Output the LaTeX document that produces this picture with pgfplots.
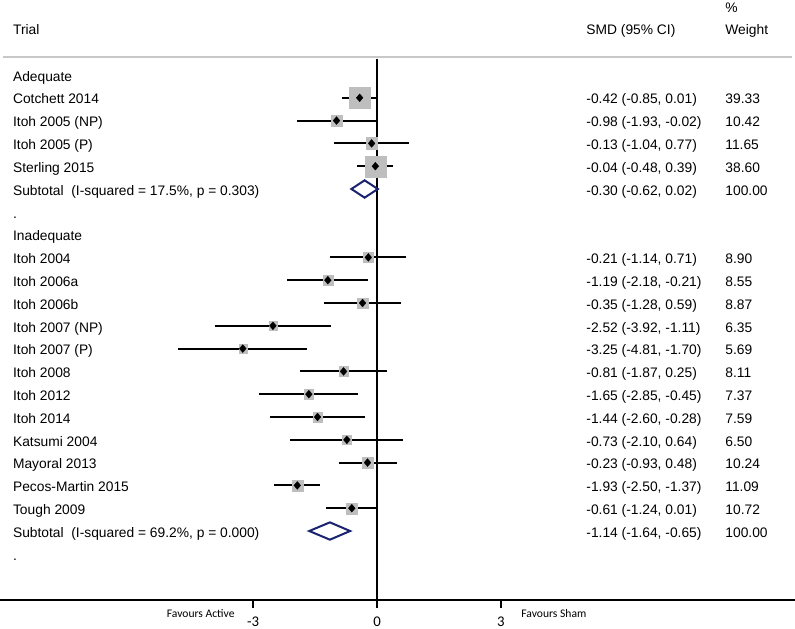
\documentclass[border=0pt]{standalone}
\usepackage{pgfplots}
\pgfplotsset{compat=1.18}
\usepackage{pgfplotstable}
\usepackage{fontspec}
\setmainfont{Liberation Sans}
\newfontfamily\calfont{Carlito}

\definecolor{boxgray}{RGB}{190,190,190}
\definecolor{rulegray}{RGB}{200,200,200}
\definecolor{navy}{RGB}{26,35,110}

% y = -row, estimates and 95% CI in SMD units, w = % weight
\pgfplotstableread{
y    est    lo     hi     w
-1   -0.42  -0.85  0.01   39.33
-2   -0.98  -1.93  -0.02  10.42
-3   -0.13  -1.04  0.77   11.65
-4   -0.04  -0.48  0.39   38.60
-8   -0.21  -1.14  0.71   8.90
-9   -1.19  -2.18  -0.21  8.55
-10  -0.35  -1.28  0.59   8.87
-11  -2.52  -3.92  -1.11  6.35
-12  -3.25  -4.81  -1.70  5.69
-13  -0.81  -1.87  0.25   8.11
-14  -1.65  -2.85  -0.45  7.37
-15  -1.44  -2.60  -0.28  7.59
-16  -0.73  -2.10  0.64   6.50
-17  -0.23  -0.93  0.48   10.24
-18  -1.93  -2.50  -1.37  11.09
-19  -0.61  -1.24  0.01   10.72
}\studies

\newcommand\rowfont{\fontsize{6.9pt}{8pt}\selectfont}
\tikzset{
  txt/.style={font=\rowfont, anchor=base west, inner sep=0pt, yshift=-3.1pt},
  hdr/.style={font=\rowfont, anchor=base west, inner sep=0pt},
}
% box side grows with the square root of the weight
\pgfplotsset{box/.style={boxgray, only marks, mark=square*, mark size={0.85*sqrt(#1)},
  mark options={draw=boxgray, fill=boxgray, line width=0.1pt}}}

\begin{document}
\begin{tikzpicture}
\useasboundingbox (0,-14pt) rectangle (397.5pt,300pt);
\begin{axis}[
  at={(0,0)}, anchor=south west,
  scale only axis,
  width=397.5pt, height=300pt,
  xmin=-9.128, xmax=10.121,
  ymin=-23.026, ymax=3.289,
  clip=false,
  axis y line=none,
  axis x line*=bottom,
  x axis line style={-, line width=1pt},
  xtick={-3,0,3},
  xticklabels={-3,0,3},
  tick align=outside,
  major tick length=4pt,
  major tick style={black, line width=1pt},
  xticklabel style={font=\calfont\fontsize{7.4pt}{8pt}\selectfont, anchor=base, yshift=-9pt},
]
  % header rule and null line
  \addplot[rulegray, line width=0.6pt] coordinates {(-9.05,0.789) (10.05,0.789)};
  \addplot[black, line width=0.75pt] coordinates {(0,0.72) (0,-23.026)};

  % weight boxes
  \addplot[box=39.33] coordinates {(-0.42,-1)};
  \addplot[box=10.42] coordinates {(-0.98,-2)};
  \addplot[box=11.65] coordinates {(-0.13,-3)};
  \addplot[box=38.60] coordinates {(-0.04,-4)};
  \addplot[box=8.90]  coordinates {(-0.21,-8)};
  \addplot[box=8.55]  coordinates {(-1.19,-9)};
  \addplot[box=8.87]  coordinates {(-0.35,-10)};
  \addplot[box=6.35]  coordinates {(-2.52,-11)};
  \addplot[box=5.69]  coordinates {(-3.25,-12)};
  \addplot[box=8.11]  coordinates {(-0.81,-13)};
  \addplot[box=7.37]  coordinates {(-1.65,-14)};
  \addplot[box=7.59]  coordinates {(-1.44,-15)};
  \addplot[box=6.50]  coordinates {(-0.73,-16)};
  \addplot[box=10.24] coordinates {(-0.23,-17)};
  \addplot[box=11.09] coordinates {(-1.93,-18)};
  \addplot[box=10.72] coordinates {(-0.61,-19)};

  % confidence intervals
  \addplot[draw=none, mark=none,
    error bars/.cd, x dir=both, x explicit, error mark=none,
    error bar style={draw=black, line width=1pt}]
    table[x=est, y=y,
      x error plus expr=\thisrow{hi}-\thisrow{est},
      x error minus expr=\thisrow{est}-\thisrow{lo}] {\studies};

  % point estimates
  \addplot[only marks, mark=diamond*, mark size=2pt, black,
    mark options={line width=0.1pt, xscale=1.15}]
    table[x=est, y=y] {\studies};

  % subtotals
  \addplot[navy, line width=1pt, fill=white]
    coordinates {(-0.62,-5) (-0.30,-4.62) (0.02,-5) (-0.30,-5.38)} -- cycle;
  \addplot[navy, line width=1pt, fill=white]
    coordinates {(-1.64,-20) (-1.14,-19.62) (-0.65,-20) (-1.14,-20.38)} -- cycle;

  % header
  \node[hdr] at (axis cs:-8.821,1.754) {Trial};
  \node[hdr] at (axis cs:5.061,1.754) {SMD (95\% CI)};
  \node[hdr] at (axis cs:8.426,2.741) {\%};
  \node[hdr] at (axis cs:8.426,1.754) {Weight};

  % left column
  \node[txt] at (axis cs:-8.821,0)   {Adequate};
  \node[txt] at (axis cs:-8.821,-1)  {Cotchett 2014};
  \node[txt] at (axis cs:-8.821,-2)  {Itoh 2005 (NP)};
  \node[txt] at (axis cs:-8.821,-3)  {Itoh 2005 (P)};
  \node[txt] at (axis cs:-8.821,-4)  {Sterling 2015};
  \node[txt] at (axis cs:-8.821,-5)  {Subtotal\ \ (I-squared = 17.5\%, p = 0.303)};
  \node[txt] at (axis cs:-8.821,-6)  {.};
  \node[txt] at (axis cs:-8.821,-7)  {Inadequate};
  \node[txt] at (axis cs:-8.821,-8)  {Itoh 2004};
  \node[txt] at (axis cs:-8.821,-9)  {Itoh 2006a};
  \node[txt] at (axis cs:-8.821,-10) {Itoh 2006b};
  \node[txt] at (axis cs:-8.821,-11) {Itoh 2007 (NP)};
  \node[txt] at (axis cs:-8.821,-12) {Itoh 2007 (P)};
  \node[txt] at (axis cs:-8.821,-13) {Itoh 2008};
  \node[txt] at (axis cs:-8.821,-14) {Itoh 2012};
  \node[txt] at (axis cs:-8.821,-15) {Itoh 2014};
  \node[txt] at (axis cs:-8.821,-16) {Katsumi 2004};
  \node[txt] at (axis cs:-8.821,-17) {Mayoral 2013};
  \node[txt] at (axis cs:-8.821,-18) {Pecos-Martin 2015};
  \node[txt] at (axis cs:-8.821,-19) {Tough 2009};
  \node[txt] at (axis cs:-8.821,-20) {Subtotal\ \ (I-squared = 69.2\%, p = 0.000)};
  \node[txt] at (axis cs:-8.821,-21) {.};

  % SMD column
  \node[txt] at (axis cs:5.061,-1)  {-0.42 (-0.85, 0.01)};
  \node[txt] at (axis cs:5.061,-2)  {-0.98 (-1.93, -0.02)};
  \node[txt] at (axis cs:5.061,-3)  {-0.13 (-1.04, 0.77)};
  \node[txt] at (axis cs:5.061,-4)  {-0.04 (-0.48, 0.39)};
  \node[txt] at (axis cs:5.061,-5)  {-0.30 (-0.62, 0.02)};
  \node[txt] at (axis cs:5.061,-8)  {-0.21 (-1.14, 0.71)};
  \node[txt] at (axis cs:5.061,-9)  {-1.19 (-2.18, -0.21)};
  \node[txt] at (axis cs:5.061,-10) {-0.35 (-1.28, 0.59)};
  \node[txt] at (axis cs:5.061,-11) {-2.52 (-3.92, -1.11)};
  \node[txt] at (axis cs:5.061,-12) {-3.25 (-4.81, -1.70)};
  \node[txt] at (axis cs:5.061,-13) {-0.81 (-1.87, 0.25)};
  \node[txt] at (axis cs:5.061,-14) {-1.65 (-2.85, -0.45)};
  \node[txt] at (axis cs:5.061,-15) {-1.44 (-2.60, -0.28)};
  \node[txt] at (axis cs:5.061,-16) {-0.73 (-2.10, 0.64)};
  \node[txt] at (axis cs:5.061,-17) {-0.23 (-0.93, 0.48)};
  \node[txt] at (axis cs:5.061,-18) {-1.93 (-2.50, -1.37)};
  \node[txt] at (axis cs:5.061,-19) {-0.61 (-1.24, 0.01)};
  \node[txt] at (axis cs:5.061,-20) {-1.14 (-1.64, -0.65)};

  % weight column
  \node[txt] at (axis cs:8.426,-1)  {39.33};
  \node[txt] at (axis cs:8.426,-2)  {10.42};
  \node[txt] at (axis cs:8.426,-3)  {11.65};
  \node[txt] at (axis cs:8.426,-4)  {38.60};
  \node[txt] at (axis cs:8.426,-5)  {100.00};
  \node[txt] at (axis cs:8.426,-8)  {8.90};
  \node[txt] at (axis cs:8.426,-9)  {8.55};
  \node[txt] at (axis cs:8.426,-10) {8.87};
  \node[txt] at (axis cs:8.426,-11) {6.35};
  \node[txt] at (axis cs:8.426,-12) {5.69};
  \node[txt] at (axis cs:8.426,-13) {8.11};
  \node[txt] at (axis cs:8.426,-14) {7.37};
  \node[txt] at (axis cs:8.426,-15) {7.59};
  \node[txt] at (axis cs:8.426,-16) {6.50};
  \node[txt] at (axis cs:8.426,-17) {10.24};
  \node[txt] at (axis cs:8.426,-18) {11.09};
  \node[txt] at (axis cs:8.426,-19) {10.72};
  \node[txt] at (axis cs:8.426,-20) {100.00};

  % direction labels
  \node[font=\calfont\fontsize{5.8pt}{7pt}\selectfont, anchor=base east, inner sep=0pt]
    at (axis cs:-3.438,-23.772) {Favours Active};
  \node[font=\calfont\fontsize{5.8pt}{7pt}\selectfont, anchor=base west, inner sep=0pt]
    at (axis cs:3.487,-23.772) {Favours Sham};
\end{axis}
\end{tikzpicture}
\end{document}
